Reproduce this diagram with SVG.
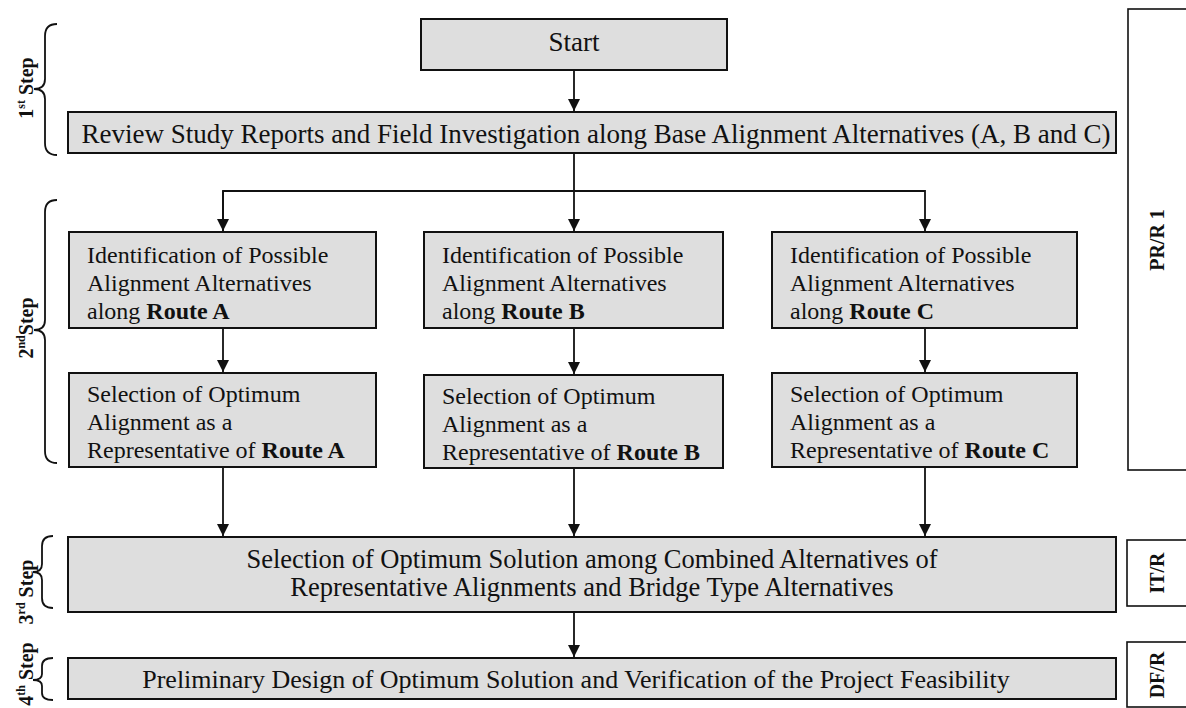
<svg xmlns="http://www.w3.org/2000/svg" width="1186" height="708" viewBox="0 0 1186 708">
  <style>
    .box { fill: #dedede; stroke: #111; stroke-width: 2; }
    .side { fill: #fff; stroke: #111; stroke-width: 1.6; }
    .t { font-family: "Liberation Serif", "Times New Roman", serif; fill: #111; }
    .big { font-size: 27px; }
    .mid { font-size: 24px; }
    .lbl { font-size: 20px; font-weight: bold; }
    .conn { fill: none; stroke: #111; stroke-width: 1.8; }
    .brace { fill: none; stroke: #111; stroke-width: 1.8; }
    .b { font-weight: bold; }
  </style>
  <defs>
    <marker id="arr" markerUnits="userSpaceOnUse" markerWidth="12" markerHeight="14" refX="12" refY="6" orient="auto">
      <path d="M0,0 L12,6 L0,12 Z" fill="#111"/>
    </marker>
  </defs>
  <rect width="1186" height="708" fill="#fff"/>

  <g id="braces">
    <path class="brace" d="M57,24 Q45,24 45,36 L45,79 Q45,89 34,89 Q45,89 45,99 L45,143 Q45,155 57,155"/>
    <path class="brace" d="M57,200 Q45,200 45,212 L45,320 Q45,330 34,330 Q45,330 45,340 L45,451 Q45,463 57,463"/>
    <path class="brace" d="M53,536 Q42,536 42,546 L42,564 Q42,572 33,572 Q42,572 42,580 L42,598 Q42,608 53,608"/>
    <path class="brace" d="M53,658 Q42,658 42,666 L42,674 Q42,680 33,680 Q42,680 42,686 L42,693 Q42,700 53,700"/>
  </g>

  <g id="step-labels">
    <text class="t lbl" transform="translate(33,88) rotate(-90)" text-anchor="middle">1<tspan font-size="12" dy="-8">st</tspan><tspan dy="8"> Step</tspan></text>
    <text class="t lbl" transform="translate(33,328) rotate(-90)" text-anchor="middle">2<tspan font-size="12" dy="-8">nd</tspan><tspan dy="8">Step</tspan></text>
    <text class="t lbl" transform="translate(33,592) rotate(-90)" text-anchor="middle">3<tspan font-size="12" dy="-8">rd</tspan><tspan dy="8"> Step</tspan></text>
    <text class="t lbl" transform="translate(33,674) rotate(-90)" text-anchor="middle">4<tspan font-size="12" dy="-8">th</tspan><tspan dy="8"> Step</tspan></text>
  </g>

  <g id="connectors">
    <line class="conn" x1="574" y1="70" x2="574" y2="111" marker-end="url(#arr)"/>
    <line class="conn" x1="574" y1="153" x2="574" y2="231" marker-end="url(#arr)"/>
    <polyline class="conn" points="223,231 223,191 925,191 925,231" marker-end="url(#arr)"/>
    <line class="conn" x1="223" y1="191" x2="223" y2="231" marker-end="url(#arr)"/>
    <line class="conn" x1="223" y1="328" x2="223" y2="372" marker-end="url(#arr)"/>
    <line class="conn" x1="574" y1="328" x2="574" y2="374" marker-end="url(#arr)"/>
    <line class="conn" x1="925" y1="328" x2="925" y2="372" marker-end="url(#arr)"/>
    <line class="conn" x1="223" y1="467" x2="223" y2="536" marker-end="url(#arr)"/>
    <line class="conn" x1="574" y1="468" x2="574" y2="536" marker-end="url(#arr)"/>
    <line class="conn" x1="925" y1="467" x2="925" y2="536" marker-end="url(#arr)"/>
    <line class="conn" x1="574" y1="612" x2="574" y2="657" marker-end="url(#arr)"/>
  </g>

  <g id="start">
    <rect class="box" x="421" y="19" width="306" height="51"/>
    <text class="t big" x="574" y="51" text-anchor="middle">Start</text>
  </g>

  <g id="review">
    <rect class="box" x="68" y="112" width="1048" height="41"/>
    <text class="t big" x="596" y="143" text-anchor="middle">Review Study Reports and Field Investigation along Base Alignment Alternatives (A, B and C)</text>
  </g>

  <g id="identA">
    <rect class="box" x="69" y="232" width="307" height="96"/>
    <text class="t mid" x="87" y="263">Identification of Possible</text>
    <text class="t mid" x="87" y="291">Alignment Alternatives</text>
    <text class="t mid" x="87" y="319">along <tspan class="b">Route A</tspan></text>
  </g>
  <g id="identB">
    <rect class="box" x="424" y="232" width="299" height="96"/>
    <text class="t mid" x="442" y="263">Identification of Possible</text>
    <text class="t mid" x="442" y="291">Alignment Alternatives</text>
    <text class="t mid" x="442" y="319">along <tspan class="b">Route B</tspan></text>
  </g>
  <g id="identC">
    <rect class="box" x="772" y="232" width="305" height="96"/>
    <text class="t mid" x="790" y="263">Identification of Possible</text>
    <text class="t mid" x="790" y="291">Alignment Alternatives</text>
    <text class="t mid" x="790" y="319">along <tspan class="b">Route C</tspan></text>
  </g>

  <g id="selectA">
    <rect class="box" x="69" y="373" width="307" height="94"/>
    <text class="t mid" x="87" y="402">Selection of Optimum</text>
    <text class="t mid" x="87" y="430">Alignment as a</text>
    <text class="t mid" x="87" y="458">Representative of <tspan class="b">Route A</tspan></text>
  </g>
  <g id="selectB">
    <rect class="box" x="424" y="375" width="299" height="93"/>
    <text class="t mid" x="442" y="404">Selection of Optimum</text>
    <text class="t mid" x="442" y="432">Alignment as a</text>
    <text class="t mid" x="442" y="460">Representative of <tspan class="b">Route B</tspan></text>
  </g>
  <g id="selectC">
    <rect class="box" x="772" y="373" width="305" height="94"/>
    <text class="t mid" x="790" y="402">Selection of Optimum</text>
    <text class="t mid" x="790" y="430">Alignment as a</text>
    <text class="t mid" x="790" y="458">Representative of <tspan class="b">Route C</tspan></text>
  </g>

  <g id="step3">
    <rect class="box" x="68" y="537" width="1048" height="75"/>
    <text class="t" font-size="26.5" x="592" y="568" text-anchor="middle">Selection of Optimum Solution among Combined Alternatives of</text>
    <text class="t" font-size="26.5" x="592" y="596" text-anchor="middle">Representative Alignments and Bridge Type Alternatives</text>
  </g>

  <g id="step4">
    <rect class="box" x="68" y="658" width="1048" height="41"/>
    <text class="t" font-size="26" x="576" y="688" text-anchor="middle">Preliminary Design of Optimum Solution and Verification of the Project Feasibility</text>
  </g>

  <g id="prr1">
    <rect class="side" x="1128" y="9" width="70" height="461"/>
    <text class="t lbl" transform="translate(1164,240) rotate(-90)" text-anchor="middle">PR/R 1</text>
  </g>
  <g id="itr">
    <rect class="side" x="1127" y="540" width="70" height="66"/>
    <text class="t lbl" transform="translate(1164,573) rotate(-90)" text-anchor="middle">IT/R</text>
  </g>
  <g id="dfr">
    <rect class="side" x="1127" y="642" width="70" height="65"/>
    <text class="t lbl" transform="translate(1164,675) rotate(-90)" text-anchor="middle">DF/R</text>
  </g>
</svg>
